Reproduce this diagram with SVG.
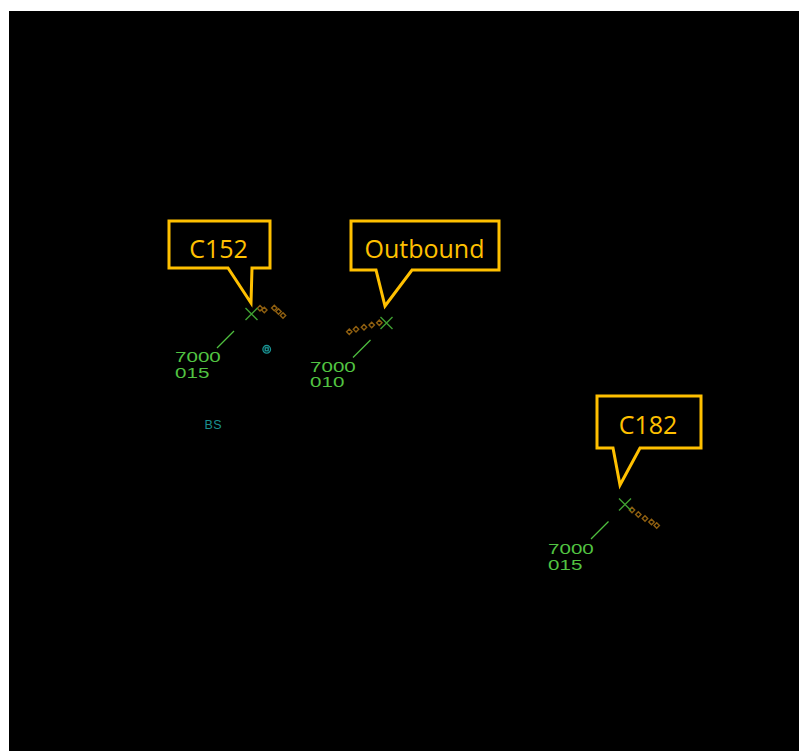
<svg xmlns="http://www.w3.org/2000/svg" xmlns:xlink="http://www.w3.org/1999/xlink" width="799" height="751" viewBox="0 0 799 751">
<style>
.callout{fill:#000;stroke:#ffc000;stroke-width:3;stroke-linejoin:miter}
.ctext{font-family:"Open Sans","Noto Sans",sans-serif;font-size:25px;fill:#ffc000;text-anchor:middle}
.xmark{stroke:#3f9f32;stroke-width:1.4;fill:none}
.hist{stroke:#8f5f10;stroke-width:1.4;fill:none}
.lead{stroke:#4fbf3f;stroke-width:1.3}
.db{font-family:"Liberation Sans","Arial",sans-serif;font-size:14.5px;fill:#52c442}
.map{fill:none;stroke:#1a9595;stroke-width:1.3}
.maptext{font-family:"Liberation Sans","Arial",sans-serif;font-size:12.5px;fill:#1a9090;letter-spacing:0.5px}
</style>
<defs>
<path id="dia" class="hist" d="M0,-2.7 L2.7,0 L0,2.7 L-2.7,0 Z"/>
<path id="ac" class="xmark" d="M-6,-6 L6,6 M6,-6 L-6,6"/>
</defs>
<rect x="0" y="0" width="799" height="751" fill="#fff"/>
<rect x="9" y="11" width="790" height="740" fill="#000"/>

<g id="connectors">
<line class="lead" x1="234" y1="331" x2="217" y2="348"/>
<line class="lead" x1="370.5" y1="340" x2="353" y2="357.5"/>
<line class="lead" x1="608.5" y1="521.5" x2="591" y2="539"/>
</g>

<g id="map-fix">
<circle class="map" cx="266.7" cy="349.3" r="3.8"/>
<rect class="map" x="265.2" y="347.8" width="3" height="3"/>
<text class="maptext" x="204.5" y="429.3">BS</text>
</g>

<g id="callout-c152">
<path class="callout" d="M169,221 H270 V268 H252 L251,303 L228,268 H169 Z"/>
<text class="ctext" x="218.5" y="258">C152</text>
</g>
<g id="callout-outbound">
<path class="callout" d="M351,221 H499 V270 H412 L385,306 L376,270 H351 Z"/>
<text class="ctext" x="424.5" y="258">Outbound</text>
</g>
<g id="callout-c182">
<path class="callout" d="M597,396 H701 V448 H640 L620,485 L613,448 H597 Z"/>
<text class="ctext" x="648" y="434">C182</text>
</g>

<g id="aircraft-c152">
<use xlink:href="#dia" x="260" y="308.3"/>
<use xlink:href="#dia" x="264.3" y="310"/>
<use xlink:href="#dia" x="274.3" y="308"/>
<use xlink:href="#dia" x="278.5" y="311.5"/>
<use xlink:href="#dia" x="283" y="315.5"/>
<use xlink:href="#ac" x="251.5" y="314"/>
<text class="db" transform="translate(175,362.3) scale(1.42,1)">7000</text>
<text class="db" transform="translate(175,378.3) scale(1.42,1)">015</text>
</g>
<g id="aircraft-outbound">
<use xlink:href="#dia" x="349.3" y="331.7"/>
<use xlink:href="#dia" x="356" y="329.3"/>
<use xlink:href="#dia" x="364" y="327.3"/>
<use xlink:href="#dia" x="371.7" y="325"/>
<use xlink:href="#dia" x="379.3" y="322.7"/>
<use xlink:href="#ac" x="386.5" y="323"/>
<text class="db" transform="translate(310,372.3) scale(1.42,1)">7000</text>
<text class="db" transform="translate(310,387.3) scale(1.42,1)">010</text>
</g>
<g id="aircraft-c182">
<use xlink:href="#dia" x="632" y="510"/>
<use xlink:href="#dia" x="638.3" y="514.5"/>
<use xlink:href="#dia" x="645" y="518.5"/>
<use xlink:href="#dia" x="651.5" y="522"/>
<use xlink:href="#dia" x="656.7" y="525.5"/>
<use xlink:href="#ac" x="625" y="504.5"/>
<text class="db" transform="translate(548,554) scale(1.42,1)">7000</text>
<text class="db" transform="translate(548,570) scale(1.42,1)">015</text>
</g>
</svg>
